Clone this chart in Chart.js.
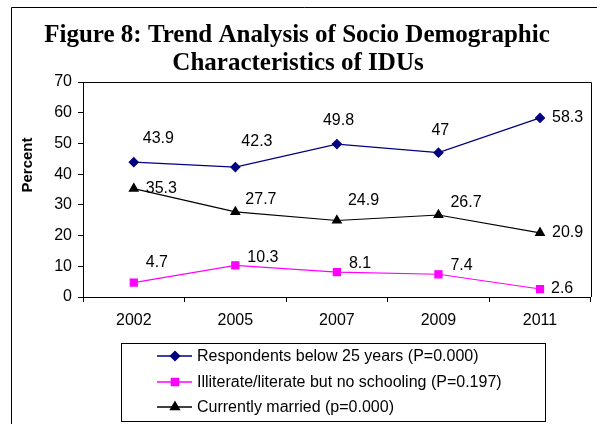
<!DOCTYPE html>
<html>
<head>
<meta charset="utf-8">
<script src="https://cdn.jsdelivr.net/npm/chart.js@4"></script>
<style>
  html, body { margin: 0; padding: 0; background: #fff; }
  #wrap { width: 597px; height: 424px; position: relative; }
</style>
</head>
<body>
<div id="wrap"><canvas id="trendChart" width="597" height="424"></canvas></div>
<script>
// 데이터
const years = ['2002', '2005', '2007', '2009', '2011'];
const below25 = [43.9, 42.3, 49.8, 47, 58.3];
const illiterate = [4.7, 10.3, 8.1, 7.4, 2.6];
const married = [35.3, 27.7, 24.9, 26.7, 20.9];
const seriesNames = [
  'Respondents below 25 years (P=0.000)',
  'Illiterate/literate but no schooling (P=0.197)',
  'Currently married (p=0.000)'
];
const titleLines = ['Figure 8: Trend Analysis of Socio Demographic', 'Characteristics of IDUs'];
const yTicks = [0, 10, 20, 30, 40, 50, 60, 70];

// label placement (dx from point to text start, dy to text middle)
const labelOffsets = [
  [[9, -24], [6, -25], [-14, -23], [-7, -22], [12, 0]],
  [[12, -20], [12, -8], [12, -9], [12, -9], [11, 0]],
  [[12, 0], [10, -12], [11, -20], [12, -12], [12, 0]]
];

const SANS = 'Arial, "Liberation Sans", sans-serif';
const SERIF = '"Times New Roman", "Liberation Serif", serif';

const decorPlugin = {
  id: 'decor',
  afterDraw(chart) {
    const ctx = chart.ctx;
    const area = chart.chartArea;
    ctx.save();

    // outer frame
    ctx.strokeStyle = '#000';
    ctx.lineWidth = 1;
    ctx.beginPath();
    ctx.moveTo(11.5, 430);
    ctx.lineTo(11.5, 7.5);
    ctx.lineTo(600, 7.5);
    ctx.stroke();

    // plot frame top/right
    ctx.beginPath();
    ctx.moveTo(area.left, Math.round(area.top) + 0.5);
    ctx.lineTo(Math.round(area.right) + 0.5, Math.round(area.top) + 0.5);
    ctx.lineTo(Math.round(area.right) + 0.5, area.bottom);
    ctx.stroke();

    // title
    ctx.fillStyle = '#000';
    ctx.font = 'bold 25px ' + SERIF;
    ctx.textAlign = 'center';
    ctx.textBaseline = 'alphabetic';
    ctx.fillText(titleLines[0], 297, 42);
    ctx.fillText(titleLines[1], 298, 70);

    // y axis title
    ctx.save();
    ctx.translate(28, 165);
    ctx.rotate(-Math.PI / 2);
    ctx.font = 'bold 15px ' + SANS;
    ctx.textBaseline = 'middle';
    ctx.fillText('Percent', 0, 0);
    ctx.restore();

    // data labels
    ctx.font = '16px ' + SANS;
    ctx.textAlign = 'left';
    ctx.textBaseline = 'middle';
    chart.data.datasets.forEach((ds, i) => {
      const meta = chart.getDatasetMeta(i);
      meta.data.forEach((pt, j) => {
        const off = labelOffsets[i][j];
        ctx.fillText(String(ds.data[j]), pt.x + off[0], pt.y + off[1]);
      });
    });

    // legend
    const box = { x: 121.5, y: 343.5, w: 424, h: 78 };
    ctx.strokeStyle = '#000';
    ctx.lineWidth = 1;
    ctx.strokeRect(box.x, box.y, box.w, box.h);
    const rows = [356, 382, 407];
    chart.data.datasets.forEach((ds, i) => {
      const y = rows[i];
      ctx.strokeStyle = ds.borderColor;
      ctx.lineWidth = 1.5;
      ctx.beginPath();
      ctx.moveTo(157, y);
      ctx.lineTo(192, y);
      ctx.stroke();
      ctx.fillStyle = ds.pointBackgroundColor;
      ctx.strokeStyle = ds.borderColor;
      Chart.helpers.drawPoint(ctx, {
        pointStyle: ds.pointStyle,
        radius: ds.pointRadius,
        rotation: 0,
        borderWidth: 1
      }, 175, y);
      ctx.fillStyle = '#000';
      ctx.font = '16px ' + SANS;
      ctx.textAlign = 'left';
      ctx.textBaseline = 'middle';
      ctx.fillText(seriesNames[i], 197, y + 1);
    });

    ctx.restore();
  }
};

const ctx = document.getElementById('trendChart').getContext('2d');
new Chart(ctx, {
  type: 'line',
  data: {
    labels: years,
    datasets: [
      {
        label: seriesNames[0],
        data: below25,
        borderColor: '#000080',
        backgroundColor: '#000080',
        pointBackgroundColor: '#000080',
        pointBorderColor: '#000080',
        pointStyle: 'rectRot',
        pointRadius: 4.5,
        borderWidth: 1.2,
        tension: 0
      },
      {
        label: seriesNames[1],
        data: illiterate,
        borderColor: '#ff00ff',
        backgroundColor: '#ff00ff',
        pointBackgroundColor: '#ff00ff',
        pointBorderColor: '#ff00ff',
        pointStyle: 'rect',
        pointRadius: 5,
        borderWidth: 1.2,
        tension: 0
      },
      {
        label: seriesNames[2],
        data: married,
        borderColor: '#000000',
        backgroundColor: '#000000',
        pointBackgroundColor: '#000000',
        pointBorderColor: '#000000',
        pointStyle: 'triangle',
        pointRadius: 5,
        borderWidth: 1.2,
        tension: 0
      }
    ]
  },
  options: {
    responsive: false,
    animation: false,
    layout: { padding: { left: 0, right: 5, top: 82, bottom: 87 } },
    plugins: {
      legend: { display: false },
      title: { display: false },
      tooltip: { enabled: false }
    },
    scales: {
      x: {
        offset: true,
        afterFit: (scale) => { scale.height = 40; },
        grid: { offset: true, drawOnChartArea: false, tickLength: 5, color: '#000' },
        border: { color: '#000', width: 1 },
        ticks: { color: '#000', font: { family: SANS, size: 16 }, padding: 9 }
      },
      y: {
        min: 0,
        max: 70,
        afterFit: (scale) => { scale.width = 83; },
        afterBuildTicks: (scale) => { scale.ticks = yTicks.map(v => ({ value: v })); },
        grid: { drawOnChartArea: false, tickLength: 5, color: '#000' },
        border: { color: '#000', width: 1 },
        ticks: { color: '#000', font: { family: SANS, size: 16 }, padding: 6 }
      }
    }
  },
  plugins: [decorPlugin]
});
</script>
</body>
</html>
